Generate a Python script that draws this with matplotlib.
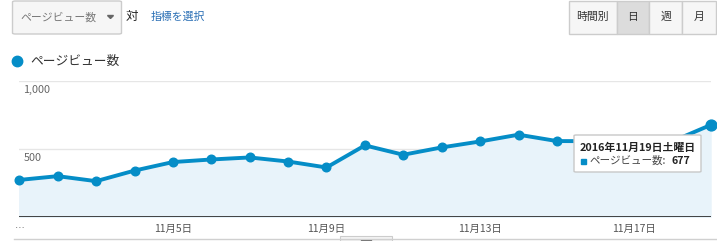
import matplotlib
matplotlib.use('Agg')
import matplotlib.pyplot as plt
import numpy as np
from matplotlib.patches import Rectangle, FancyBboxPatch, Polygon

plt.rcParams['font.family'] = ['Noto Sans CJK JP', 'DejaVu Sans']

# データ (2016年11月1日〜19日のページビュー数)
days = list(range(1, 20))
pageviews = [272, 300, 263, 341, 404, 423, 438, 408, 364, 527,
             458, 512, 556, 606, 559, 558, 560, 556, 677]
tick_days = [5, 9, 13, 17]
tick_labels = [f'11月{d}日' for d in tick_days]
y_ticks = [500, 1000]
y_tick_labels = ['500', '1,000']
metric = 'ページビュー数'
buttons = ['時間別', '日', '週', '月']

W, H = 717, 241
fig = plt.figure(figsize=(W / 100, H / 100), dpi=100)


def fx(x):
    return x / W


def fy(y):
    return 1 - y / H


LINE = '#058dc7'

# ====================== グラフ本体 ======================
x0, x1 = 19.3, 710.5
y_top, y_base = 81.3, 216.8
ax = fig.add_axes([fx(x0), fy(y_base), (x1 - x0) / W, (y_base - y_top) / H])
ax.set_xlim(days[0], days[-1])
ax.set_ylim(0, 1000)
ax.axis('off')

for v in y_ticks:
    ax.axhline(v, color='#e6e6e6', lw=1, zorder=0)
ax.fill_between(days, pageviews, 0, color='#e8f3fa', zorder=1)
ax.plot(days, pageviews, color=LINE, lw=2.8, zorder=3, solid_capstyle='round',
        clip_on=False)
ax.plot(days[:-1], pageviews[:-1], 'o', color=LINE, ms=6.2, zorder=4, clip_on=False)
ax.plot(days[-1:], pageviews[-1:], 'o', color=LINE, ms=7.8, zorder=4, clip_on=False)
ax.axhline(0, color='#333333', lw=1.3, zorder=5)

for v, lab in zip(y_ticks, y_tick_labels):
    ax.annotate(lab, (days[0], v), xytext=(3, -3), textcoords='offset points',
                ha='left', va='top', fontsize=7.8, color='#666666')

for d, lab in zip(tick_days, tick_labels):
    ax.annotate(lab, (d, 0), xytext=(0, -5), textcoords='offset points',
                ha='center', va='top', fontsize=7.5, color='#555555')
ax.annotate('…', (days[0], 0), xytext=(-3, -5), textcoords='offset points',
            ha='left', va='top', fontsize=7, color='#555555')

# ツールチップ
tip = FancyBboxPatch((fx(574), fy(172)), fx(701) - fx(574), fy(135) - fy(172),
                     boxstyle='round,pad=0,rounding_size=0.003',
                     transform=fig.transFigure, facecolor='white',
                     edgecolor='#c8c8c8', lw=1, zorder=10)
fig.patches.append(tip)
fig.text(fx(580), fy(148), '2016年11月19日土曜日', fontsize=7.8, fontweight='bold',
         color='#222222', va='center', ha='left', zorder=11)
fig.patches.append(Rectangle((fx(581), fy(163.5)), fx(5), fy(0) - fy(5),
                             transform=fig.transFigure, color=LINE, zorder=11))
fig.text(fx(589), fy(161), 'ページビュー数:', fontsize=7.6, color='#444444',
         va='center', ha='left', zorder=11)
fig.text(fx(672), fy(161), str(pageviews[-1]), fontsize=7.6, fontweight='bold',
         color='#222222', va='center', ha='left', zorder=11)

# 下の区切り線とタブ
fig.add_artist(plt.Line2D([fx(14), fx(717)], [fy(238.5), fy(238.5)],
                          color='#d0d0d0', lw=1))
fig.patches.append(Rectangle((fx(340), fy(241)), fx(52), fy(236) - fy(241),
                             transform=fig.transFigure, facecolor='#f4f4f4',
                             edgecolor='#cccccc', lw=0.8))
fig.patches.append(Rectangle((fx(361), fy(240.5)), fx(10), fy(239.5) - fy(240.5),
                             transform=fig.transFigure, color='#666666'))

# ====================== 上部コントロール ======================
dd = FancyBboxPatch((fx(12.5), fy(34)), fx(121.5) - fx(12.5), fy(1) - fy(34),
                    boxstyle='round,pad=0,rounding_size=0.004',
                    transform=fig.transFigure, facecolor='#f6f6f6',
                    edgecolor='#cccccc', lw=1)
fig.patches.append(dd)
fig.text(fx(20), fy(17), metric, fontsize=7.8, color='#777777', va='center', ha='left')
fig.patches.append(Polygon([[fx(107.5), fy(15.5)], [fx(113.5), fy(15.5)], [fx(110.5), fy(18.5)]],
                           closed=True, transform=fig.transFigure, color='#666666'))
fig.text(fx(126), fy(16), '対', fontsize=9, color='#222222', va='center', ha='left')
fig.text(fx(151), fy(16.5), '指標を選択', fontsize=7.8, color='#2a6fb5', va='center', ha='left')

# 期間ボタン
edges = [568.5, 616.7, 649.3, 682.3, 715.5]
for i, lab in enumerate(buttons):
    a, b = edges[i], edges[i + 1]
    face = '#dcdcdc' if lab == '日' else '#f6f6f6'
    fig.patches.append(Rectangle((fx(a), fy(34)), fx(b - a), fy(1) - fy(34),
                                 transform=fig.transFigure, facecolor=face,
                                 edgecolor='#cccccc', lw=1))
    fig.text(fx((a + b) / 2), fy(17), lab, fontsize=7.8, color='#333333',
             va='center', ha='center')

# 凡例
fig.add_artist(plt.Line2D([fx(16.5)], [fy(61)], marker='o', ms=7.5, color=LINE,
                          lw=0))
fig.text(fx(30), fy(61), metric, fontsize=9.2, color='#333333', va='center', ha='left')

fig.savefig('out.png', dpi=100)
